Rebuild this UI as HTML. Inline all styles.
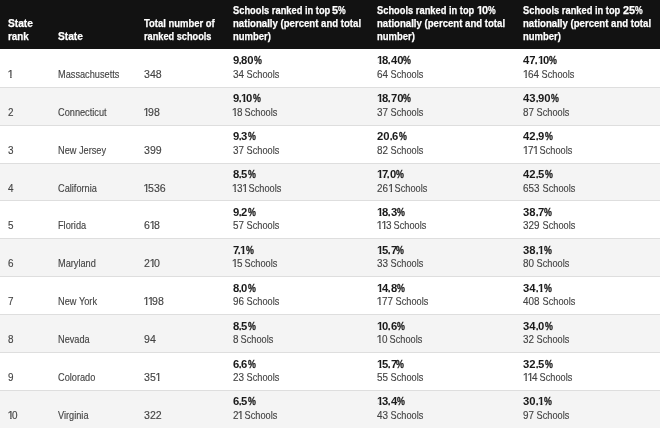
<!DOCTYPE html>
<html><head><meta charset="utf-8"><title>State rankings</title>
<style>
html,body{margin:0;padding:0;}
body{width:660px;height:428px;overflow:hidden;background:#fff;will-change:transform;font-family:"Liberation Sans",sans-serif;position:relative;}
.hd{position:absolute;left:0;top:0;width:660px;height:48.7px;background:#121212;}
.r{position:absolute;left:0;width:660px;border-bottom:1px solid #dedede;box-sizing:border-box;}
.r.e{background:#f4f4f4;}
.h,.t,.b{position:absolute;white-space:nowrap;font-size:11.5px;line-height:14px;height:14px;}
.h{color:#fff;font-weight:bold;-webkit-text-stroke:0.25px #fff;}
.t{color:#444444;-webkit-text-stroke:0.15px currentColor;}
.b{color:#1a1a1a;font-weight:bold;}
i{display:inline-block;font-style:normal;position:relative;height:14px;vertical-align:top;}
i>b{display:inline-block;font-weight:inherit;transform-origin:0 0;white-space:pre;position:relative;}
i>b.on{clip-path:polygon(0 0,8px 0,8px 9.38px,4.16px 9.38px,4.16px 20px,2.64px 20px,2.64px 9.38px,0 9.38px);}
i>b.ob{clip-path:polygon(0 0,8px 0,8px 9.08px,4.51px 9.08px,4.51px 20px,2.43px 20px,2.43px 9.08px,0 9.08px);}
</style></head><body>

<div class="hd"></div>
<div class="h" style="left:8.2px;top:16.22px"><i style="width: 24.89px;"><b style="transform:scaleX(0.885)">State</b></i></div><div class="h" style="left:8.2px;top:29.22px"><i style="width: 20.77px;"><b style="transform:scaleX(0.855)">rank</b></i></div>
<div class="h" style="left:57.7px;top:29.22px"><i style="width: 24.89px;"><b style="transform:scaleX(0.885)">State</b></i></div>
<div class="h" style="left:144.2px;top:16.22px"><i style="width: 70.72px;"><b style="transform:scaleX(0.822)">Total&nbsp;number&nbsp;of</b></i></div><div class="h" style="left:144.2px;top:29.22px"><i style="width: 67.5px;"><b style="transform:scaleX(0.800)">ranked&nbsp;schools</b></i></div>
<div class="h" style="left:232.5px;top:2.72px"><i style="width: 99.9px;"><b style="transform:scaleX(0.810)">Schools&nbsp;ranked&nbsp;in&nbsp;top&nbsp;</b></i><i style="width: 6.09px;"><b style="transform:scaleX(0.950)">5</b></i><i style="width: 7.68px;"><b style="transform:scaleX(0.750)">%</b></i></div><div class="h" style="left:232.5px;top:15.92px"><i style="width: 128.06px;"><b style="transform:scaleX(0.835)">nationally&nbsp;(percent&nbsp;and&nbsp;total</b></i></div><div class="h" style="left:232.5px;top:29.22px"><i style="width: 37.81px;"><b style="transform:scaleX(0.822)">number)</b></i></div>
<div class="h" style="left:377.3px;top:2.72px"><i style="width: 99.9px;"><b style="transform:scaleX(0.810)">Schools&nbsp;ranked&nbsp;in&nbsp;top&nbsp;</b></i><i style="width:5.00px"><b class="ob" style="transform:scaleX(0.950);left:0.00px">1</b></i><i style="width: 6.09px;"><b style="transform:scaleX(0.950)">0</b></i><i style="width: 7.68px;"><b style="transform:scaleX(0.750)">%</b></i></div><div class="h" style="left:377.3px;top:15.92px"><i style="width: 128.06px;"><b style="transform:scaleX(0.835)">nationally&nbsp;(percent&nbsp;and&nbsp;total</b></i></div><div class="h" style="left:377.3px;top:29.22px"><i style="width: 37.81px;"><b style="transform:scaleX(0.822)">number)</b></i></div>
<div class="h" style="left:523.4px;top:2.72px"><i style="width: 99.9px;"><b style="transform:scaleX(0.810)">Schools&nbsp;ranked&nbsp;in&nbsp;top&nbsp;</b></i><i style="width: 12.16px;"><b style="transform:scaleX(0.950)">25</b></i><i style="width: 7.68px;"><b style="transform:scaleX(0.750)">%</b></i></div><div class="h" style="left:523.4px;top:15.92px"><i style="width: 128.06px;"><b style="transform:scaleX(0.835)">nationally&nbsp;(percent&nbsp;and&nbsp;total</b></i></div><div class="h" style="left:523.4px;top:29.22px"><i style="width: 37.81px;"><b style="transform:scaleX(0.822)">number)</b></i></div>
<div class="r" style="top:49.85px;height:37.90px"></div>
<div class="t" style="left:8.2px;top:66.87px"><i style="width:4.30px"><b class="on" style="transform:scaleX(1.000);left:-0.70px">1</b></i></div>
<div class="t" style="left:57.7px;top:66.87px"><i style="width: 61.36px;"><b style="transform:scaleX(0.800)">Massachusetts</b></i></div>
<div class="t" style="left:143.9px;top:66.87px"><i style="width: 17.65px;"><b style="transform:scaleX(0.920)">348</b></i></div>
<div class="b" style="left:232.5px;top:53.37px"><i style="width: 6.28px;"><b style="transform:scaleX(0.980)">9</b></i><i style="width: 2.47px;"><b style="transform:scaleX(0.770);-webkit-text-stroke:0.3px currentColor">.</b></i><i style="width: 12.54px;"><b style="transform:scaleX(0.980)">80</b></i><i style="width: 7.88px;"><b style="transform:scaleX(0.770);-webkit-text-stroke:0.3px currentColor">%</b></i></div>
<div class="t" style="left:232.5px;top:66.87px"><i style="width: 11.01px;"><b style="transform:scaleX(0.860)">34</b></i><i style="width: 35.29px;"><b style="transform:scaleX(0.800)">&nbsp;Schools</b></i></div>
<div class="b" style="left:377.3px;top:53.37px"><i style="width:4.80px"><b class="ob" style="transform:scaleX(0.980);left:-0.30px">1</b></i><i style="width: 6.28px;"><b style="transform:scaleX(0.980)">8</b></i><i style="width: 2.47px;"><b style="transform:scaleX(0.770);-webkit-text-stroke:0.3px currentColor">.</b></i><i style="width: 12.54px;"><b style="transform:scaleX(0.980)">40</b></i><i style="width: 7.88px;"><b style="transform:scaleX(0.770);-webkit-text-stroke:0.3px currentColor">%</b></i></div>
<div class="t" style="left:377.3px;top:66.87px"><i style="width: 11.01px;"><b style="transform:scaleX(0.860)">64</b></i><i style="width: 35.29px;"><b style="transform:scaleX(0.800)">&nbsp;Schools</b></i></div>
<div class="b" style="left:523.4px;top:53.37px"><i style="width: 12.54px;"><b style="transform:scaleX(0.980)">47</b></i><i style="margin-left: -0.9px; width: 2.47px;"><b style="transform:scaleX(0.770);-webkit-text-stroke:0.3px currentColor">.</b></i><i style="width:5.20px"><b class="ob" style="transform:scaleX(0.980);left:0.10px">1</b></i><i style="width: 6.28px;"><b style="transform:scaleX(0.980)">0</b></i><i style="width: 7.88px;"><b style="transform:scaleX(0.770);-webkit-text-stroke:0.3px currentColor">%</b></i></div>
<div class="t" style="left:523.4px;top:66.87px"><i style="width:4.30px"><b class="on" style="transform:scaleX(1.000);left:-0.70px">1</b></i><i style="width: 11.01px;"><b style="transform:scaleX(0.860)">64</b></i><i style="width: 35.29px;"><b style="transform:scaleX(0.800)">&nbsp;Schools</b></i></div>
<div class="r e" style="top:87.75px;height:37.90px"></div>
<div class="t" style="left:8.2px;top:104.77px"><i style="width: 5.51px;"><b style="transform:scaleX(0.860)">2</b></i></div>
<div class="t" style="left:57.7px;top:104.77px"><i style="width: 48.59px;"><b style="transform:scaleX(0.800)">Connecticut</b></i></div>
<div class="t" style="left:143.9px;top:104.77px"><i style="width:4.30px"><b class="on" style="transform:scaleX(1.000);left:-0.70px">1</b></i><i style="width: 11.77px;"><b style="transform:scaleX(0.920)">98</b></i></div>
<div class="b" style="left:232.5px;top:91.27px"><i style="width: 6.28px;"><b style="transform:scaleX(0.980)">9</b></i><i style="width: 2.47px;"><b style="transform:scaleX(0.770);-webkit-text-stroke:0.3px currentColor">.</b></i><i style="width:5.20px"><b class="ob" style="transform:scaleX(0.980);left:0.10px">1</b></i><i style="width: 6.28px;"><b style="transform:scaleX(0.980)">0</b></i><i style="width: 7.88px;"><b style="transform:scaleX(0.770);-webkit-text-stroke:0.3px currentColor">%</b></i></div>
<div class="t" style="left:232.5px;top:104.77px"><i style="width:4.30px"><b class="on" style="transform:scaleX(1.000);left:-0.70px">1</b></i><i style="width: 5.51px;"><b style="transform:scaleX(0.860)">8</b></i><i style="width: 35.29px;"><b style="transform:scaleX(0.800)">&nbsp;Schools</b></i></div>
<div class="b" style="left:377.3px;top:91.27px"><i style="width:4.80px"><b class="ob" style="transform:scaleX(0.980);left:-0.30px">1</b></i><i style="width: 6.28px;"><b style="transform:scaleX(0.980)">8</b></i><i style="width: 2.47px;"><b style="transform:scaleX(0.770);-webkit-text-stroke:0.3px currentColor">.</b></i><i style="width: 12.54px;"><b style="transform:scaleX(0.980)">70</b></i><i style="width: 7.88px;"><b style="transform:scaleX(0.770);-webkit-text-stroke:0.3px currentColor">%</b></i></div>
<div class="t" style="left:377.3px;top:104.77px"><i style="width: 11.01px;"><b style="transform:scaleX(0.860)">37</b></i><i style="width: 35.29px;"><b style="transform:scaleX(0.800)">&nbsp;Schools</b></i></div>
<div class="b" style="left:523.4px;top:91.27px"><i style="width: 12.54px;"><b style="transform:scaleX(0.980)">43</b></i><i style="width: 2.47px;"><b style="transform:scaleX(0.770);-webkit-text-stroke:0.3px currentColor">.</b></i><i style="width: 12.54px;"><b style="transform:scaleX(0.980)">90</b></i><i style="width: 7.88px;"><b style="transform:scaleX(0.770);-webkit-text-stroke:0.3px currentColor">%</b></i></div>
<div class="t" style="left:523.4px;top:104.77px"><i style="width: 11.01px;"><b style="transform:scaleX(0.860)">87</b></i><i style="width: 35.29px;"><b style="transform:scaleX(0.800)">&nbsp;Schools</b></i></div>
<div class="r" style="top:125.65px;height:37.90px"></div>
<div class="t" style="left:8.2px;top:142.67px"><i style="width: 5.51px;"><b style="transform:scaleX(0.860)">3</b></i></div>
<div class="t" style="left:57.7px;top:142.67px"><i style="width: 48.06px;"><b style="transform:scaleX(0.800)">New&nbsp;Jersey</b></i></div>
<div class="t" style="left:143.9px;top:142.67px"><i style="width: 17.65px;"><b style="transform:scaleX(0.920)">399</b></i></div>
<div class="b" style="left:232.5px;top:129.17px"><i style="width: 6.28px;"><b style="transform:scaleX(0.980)">9</b></i><i style="width: 2.47px;"><b style="transform:scaleX(0.770);-webkit-text-stroke:0.3px currentColor">.</b></i><i style="width: 6.28px;"><b style="transform:scaleX(0.980)">3</b></i><i style="width: 7.88px;"><b style="transform:scaleX(0.770);-webkit-text-stroke:0.3px currentColor">%</b></i></div>
<div class="t" style="left:232.5px;top:142.67px"><i style="width: 11.01px;"><b style="transform:scaleX(0.860)">37</b></i><i style="width: 35.29px;"><b style="transform:scaleX(0.800)">&nbsp;Schools</b></i></div>
<div class="b" style="left:377.3px;top:129.17px"><i style="width: 12.54px;"><b style="transform:scaleX(0.980)">20</b></i><i style="width: 2.47px;"><b style="transform:scaleX(0.770);-webkit-text-stroke:0.3px currentColor">.</b></i><i style="width: 6.28px;"><b style="transform:scaleX(0.980)">6</b></i><i style="width: 7.88px;"><b style="transform:scaleX(0.770);-webkit-text-stroke:0.3px currentColor">%</b></i></div>
<div class="t" style="left:377.3px;top:142.67px"><i style="width: 11.01px;"><b style="transform:scaleX(0.860)">82</b></i><i style="width: 35.29px;"><b style="transform:scaleX(0.800)">&nbsp;Schools</b></i></div>
<div class="b" style="left:523.4px;top:129.17px"><i style="width: 12.54px;"><b style="transform:scaleX(0.980)">42</b></i><i style="width: 2.47px;"><b style="transform:scaleX(0.770);-webkit-text-stroke:0.3px currentColor">.</b></i><i style="width: 6.28px;"><b style="transform:scaleX(0.980)">9</b></i><i style="width: 7.88px;"><b style="transform:scaleX(0.770);-webkit-text-stroke:0.3px currentColor">%</b></i></div>
<div class="t" style="left:523.4px;top:142.67px"><i style="width:4.30px"><b class="on" style="transform:scaleX(1.000);left:-0.70px">1</b></i><i style="width: 5.51px;"><b style="transform:scaleX(0.860)">7</b></i><i style="width:4.20px"><b class="on" style="transform:scaleX(1.000);left:-0.40px">1</b></i><i style="width: 35.29px;"><b style="transform:scaleX(0.800)">&nbsp;Schools</b></i></div>
<div class="r e" style="top:163.55px;height:37.90px"></div>
<div class="t" style="left:8.2px;top:180.57px"><i style="width: 5.51px;"><b style="transform:scaleX(0.860)">4</b></i></div>
<div class="t" style="left:57.7px;top:180.57px"><i style="width: 38.86px;"><b style="transform:scaleX(0.800)">California</b></i></div>
<div class="t" style="left:143.9px;top:180.57px"><i style="width:4.30px"><b class="on" style="transform:scaleX(1.000);left:-0.70px">1</b></i><i style="width: 17.65px;"><b style="transform:scaleX(0.920)">536</b></i></div>
<div class="b" style="left:232.5px;top:167.07px"><i style="width: 6.28px;"><b style="transform:scaleX(0.980)">8</b></i><i style="width: 2.47px;"><b style="transform:scaleX(0.770);-webkit-text-stroke:0.3px currentColor">.</b></i><i style="width: 6.28px;"><b style="transform:scaleX(0.980)">5</b></i><i style="width: 7.88px;"><b style="transform:scaleX(0.770);-webkit-text-stroke:0.3px currentColor">%</b></i></div>
<div class="t" style="left:232.5px;top:180.57px"><i style="width:4.30px"><b class="on" style="transform:scaleX(1.000);left:-0.70px">1</b></i><i style="width: 5.51px;"><b style="transform:scaleX(0.860)">3</b></i><i style="width:4.20px"><b class="on" style="transform:scaleX(1.000);left:-0.40px">1</b></i><i style="width: 35.29px;"><b style="transform:scaleX(0.800)">&nbsp;Schools</b></i></div>
<div class="b" style="left:377.3px;top:167.07px"><i style="width:4.80px"><b class="ob" style="transform:scaleX(0.980);left:-0.30px">1</b></i><i style="width: 6.28px;"><b style="transform:scaleX(0.980)">7</b></i><i style="margin-left: -0.9px; width: 2.47px;"><b style="transform:scaleX(0.770);-webkit-text-stroke:0.3px currentColor">.</b></i><i style="width: 6.28px;"><b style="transform:scaleX(0.980)">0</b></i><i style="width: 7.88px;"><b style="transform:scaleX(0.770);-webkit-text-stroke:0.3px currentColor">%</b></i></div>
<div class="t" style="left:377.3px;top:180.57px"><i style="width: 11.01px;"><b style="transform:scaleX(0.860)">26</b></i><i style="width:4.20px"><b class="on" style="transform:scaleX(1.000);left:-0.40px">1</b></i><i style="width: 35.29px;"><b style="transform:scaleX(0.800)">&nbsp;Schools</b></i></div>
<div class="b" style="left:523.4px;top:167.07px"><i style="width: 12.54px;"><b style="transform:scaleX(0.980)">42</b></i><i style="width: 2.47px;"><b style="transform:scaleX(0.770);-webkit-text-stroke:0.3px currentColor">.</b></i><i style="width: 6.28px;"><b style="transform:scaleX(0.980)">5</b></i><i style="width: 7.88px;"><b style="transform:scaleX(0.770);-webkit-text-stroke:0.3px currentColor">%</b></i></div>
<div class="t" style="left:523.4px;top:180.57px"><i style="width: 16.5px;"><b style="transform:scaleX(0.860)">653</b></i><i style="width: 35.29px;"><b style="transform:scaleX(0.800)">&nbsp;Schools</b></i></div>
<div class="r" style="top:201.45px;height:37.90px"></div>
<div class="t" style="left:8.2px;top:218.47px"><i style="width: 5.51px;"><b style="transform:scaleX(0.860)">5</b></i></div>
<div class="t" style="left:57.7px;top:218.47px"><i style="width: 28.13px;"><b style="transform:scaleX(0.800)">Florida</b></i></div>
<div class="t" style="left:143.9px;top:218.47px"><i style="width: 5.89px;"><b style="transform:scaleX(0.920)">6</b></i><i style="width:4.20px"><b class="on" style="transform:scaleX(1.000);left:-0.40px">1</b></i><i style="width: 5.89px;"><b style="transform:scaleX(0.920)">8</b></i></div>
<div class="b" style="left:232.5px;top:204.97px"><i style="width: 6.28px;"><b style="transform:scaleX(0.980)">9</b></i><i style="width: 2.47px;"><b style="transform:scaleX(0.770);-webkit-text-stroke:0.3px currentColor">.</b></i><i style="width: 6.28px;"><b style="transform:scaleX(0.980)">2</b></i><i style="width: 7.88px;"><b style="transform:scaleX(0.770);-webkit-text-stroke:0.3px currentColor">%</b></i></div>
<div class="t" style="left:232.5px;top:218.47px"><i style="width: 11.01px;"><b style="transform:scaleX(0.860)">57</b></i><i style="width: 35.29px;"><b style="transform:scaleX(0.800)">&nbsp;Schools</b></i></div>
<div class="b" style="left:377.3px;top:204.97px"><i style="width:4.80px"><b class="ob" style="transform:scaleX(0.980);left:-0.30px">1</b></i><i style="width: 6.28px;"><b style="transform:scaleX(0.980)">8</b></i><i style="width: 2.47px;"><b style="transform:scaleX(0.770);-webkit-text-stroke:0.3px currentColor">.</b></i><i style="width: 6.28px;"><b style="transform:scaleX(0.980)">3</b></i><i style="width: 7.88px;"><b style="transform:scaleX(0.770);-webkit-text-stroke:0.3px currentColor">%</b></i></div>
<div class="t" style="left:377.3px;top:218.47px"><i style="width:4.30px"><b class="on" style="transform:scaleX(1.000);left:-0.70px">1</b></i><i style="width:4.20px"><b class="on" style="transform:scaleX(1.000);left:-0.40px">1</b></i><i style="width: 5.51px;"><b style="transform:scaleX(0.860)">3</b></i><i style="width: 35.29px;"><b style="transform:scaleX(0.800)">&nbsp;Schools</b></i></div>
<div class="b" style="left:523.4px;top:204.97px"><i style="width: 12.54px;"><b style="transform:scaleX(0.980)">38</b></i><i style="width: 2.47px;"><b style="transform:scaleX(0.770);-webkit-text-stroke:0.3px currentColor">.</b></i><i style="width: 6.28px;"><b style="transform:scaleX(0.980)">7</b></i><i style="margin-left: -0.9px; width: 7.88px;"><b style="transform:scaleX(0.770);-webkit-text-stroke:0.3px currentColor">%</b></i></div>
<div class="t" style="left:523.4px;top:218.47px"><i style="width: 16.5px;"><b style="transform:scaleX(0.860)">329</b></i><i style="width: 35.29px;"><b style="transform:scaleX(0.800)">&nbsp;Schools</b></i></div>
<div class="r e" style="top:239.35px;height:37.90px"></div>
<div class="t" style="left:8.2px;top:256.37px"><i style="width: 5.51px;"><b style="transform:scaleX(0.860)">6</b></i></div>
<div class="t" style="left:57.7px;top:256.37px"><i style="width: 37.85px;"><b style="transform:scaleX(0.800)">Maryland</b></i></div>
<div class="t" style="left:143.9px;top:256.37px"><i style="width: 5.89px;"><b style="transform:scaleX(0.920)">2</b></i><i style="width:4.20px"><b class="on" style="transform:scaleX(1.000);left:-0.40px">1</b></i><i style="width: 5.89px;"><b style="transform:scaleX(0.920)">0</b></i></div>
<div class="b" style="left:232.5px;top:242.87px"><i style="width: 6.28px;"><b style="transform:scaleX(0.980)">7</b></i><i style="margin-left: -0.9px; width: 2.47px;"><b style="transform:scaleX(0.770);-webkit-text-stroke:0.3px currentColor">.</b></i><i style="width:5.20px"><b class="ob" style="transform:scaleX(0.980);left:0.10px">1</b></i><i style="width: 7.88px;"><b style="transform:scaleX(0.770);-webkit-text-stroke:0.3px currentColor">%</b></i></div>
<div class="t" style="left:232.5px;top:256.37px"><i style="width:4.30px"><b class="on" style="transform:scaleX(1.000);left:-0.70px">1</b></i><i style="width: 5.51px;"><b style="transform:scaleX(0.860)">5</b></i><i style="width: 35.29px;"><b style="transform:scaleX(0.800)">&nbsp;Schools</b></i></div>
<div class="b" style="left:377.3px;top:242.87px"><i style="width:4.80px"><b class="ob" style="transform:scaleX(0.980);left:-0.30px">1</b></i><i style="width: 6.28px;"><b style="transform:scaleX(0.980)">5</b></i><i style="width: 2.47px;"><b style="transform:scaleX(0.770);-webkit-text-stroke:0.3px currentColor">.</b></i><i style="width: 6.28px;"><b style="transform:scaleX(0.980)">7</b></i><i style="margin-left: -0.9px; width: 7.88px;"><b style="transform:scaleX(0.770);-webkit-text-stroke:0.3px currentColor">%</b></i></div>
<div class="t" style="left:377.3px;top:256.37px"><i style="width: 11.01px;"><b style="transform:scaleX(0.860)">33</b></i><i style="width: 35.29px;"><b style="transform:scaleX(0.800)">&nbsp;Schools</b></i></div>
<div class="b" style="left:523.4px;top:242.87px"><i style="width: 12.54px;"><b style="transform:scaleX(0.980)">38</b></i><i style="width: 2.47px;"><b style="transform:scaleX(0.770);-webkit-text-stroke:0.3px currentColor">.</b></i><i style="width:5.20px"><b class="ob" style="transform:scaleX(0.980);left:0.10px">1</b></i><i style="width: 7.88px;"><b style="transform:scaleX(0.770);-webkit-text-stroke:0.3px currentColor">%</b></i></div>
<div class="t" style="left:523.4px;top:256.37px"><i style="width: 11.01px;"><b style="transform:scaleX(0.860)">80</b></i><i style="width: 35.29px;"><b style="transform:scaleX(0.800)">&nbsp;Schools</b></i></div>
<div class="r" style="top:277.25px;height:37.90px"></div>
<div class="t" style="left:8.2px;top:294.27px"><i style="width: 5.51px;"><b style="transform:scaleX(0.860)">7</b></i></div>
<div class="t" style="left:57.7px;top:294.27px"><i style="width: 39.04px;"><b style="transform:scaleX(0.800)">New&nbsp;York</b></i></div>
<div class="t" style="left:143.9px;top:294.27px"><i style="width:4.30px"><b class="on" style="transform:scaleX(1.000);left:-0.70px">1</b></i><i style="width:4.20px"><b class="on" style="transform:scaleX(1.000);left:-0.40px">1</b></i><i style="width: 11.77px;"><b style="transform:scaleX(0.920)">98</b></i></div>
<div class="b" style="left:232.5px;top:280.77px"><i style="width: 6.28px;"><b style="transform:scaleX(0.980)">8</b></i><i style="width: 2.47px;"><b style="transform:scaleX(0.770);-webkit-text-stroke:0.3px currentColor">.</b></i><i style="width: 6.28px;"><b style="transform:scaleX(0.980)">0</b></i><i style="width: 7.88px;"><b style="transform:scaleX(0.770);-webkit-text-stroke:0.3px currentColor">%</b></i></div>
<div class="t" style="left:232.5px;top:294.27px"><i style="width: 11.01px;"><b style="transform:scaleX(0.860)">96</b></i><i style="width: 35.29px;"><b style="transform:scaleX(0.800)">&nbsp;Schools</b></i></div>
<div class="b" style="left:377.3px;top:280.77px"><i style="width:4.80px"><b class="ob" style="transform:scaleX(0.980);left:-0.30px">1</b></i><i style="width: 6.28px;"><b style="transform:scaleX(0.980)">4</b></i><i style="width: 2.47px;"><b style="transform:scaleX(0.770);-webkit-text-stroke:0.3px currentColor">.</b></i><i style="width: 6.28px;"><b style="transform:scaleX(0.980)">8</b></i><i style="width: 7.88px;"><b style="transform:scaleX(0.770);-webkit-text-stroke:0.3px currentColor">%</b></i></div>
<div class="t" style="left:377.3px;top:294.27px"><i style="width:4.30px"><b class="on" style="transform:scaleX(1.000);left:-0.70px">1</b></i><i style="width: 11.01px;"><b style="transform:scaleX(0.860)">77</b></i><i style="width: 35.29px;"><b style="transform:scaleX(0.800)">&nbsp;Schools</b></i></div>
<div class="b" style="left:523.4px;top:280.77px"><i style="width: 12.54px;"><b style="transform:scaleX(0.980)">34</b></i><i style="width: 2.47px;"><b style="transform:scaleX(0.770);-webkit-text-stroke:0.3px currentColor">.</b></i><i style="width:5.20px"><b class="ob" style="transform:scaleX(0.980);left:0.10px">1</b></i><i style="width: 7.88px;"><b style="transform:scaleX(0.770);-webkit-text-stroke:0.3px currentColor">%</b></i></div>
<div class="t" style="left:523.4px;top:294.27px"><i style="width: 16.5px;"><b style="transform:scaleX(0.860)">408</b></i><i style="width: 35.29px;"><b style="transform:scaleX(0.800)">&nbsp;Schools</b></i></div>
<div class="r e" style="top:315.15px;height:37.90px"></div>
<div class="t" style="left:8.2px;top:332.17px"><i style="width: 5.51px;"><b style="transform:scaleX(0.860)">8</b></i></div>
<div class="t" style="left:57.7px;top:332.17px"><i style="width: 31.71px;"><b style="transform:scaleX(0.800)">Nevada</b></i></div>
<div class="t" style="left:143.9px;top:332.17px"><i style="width: 11.77px;"><b style="transform:scaleX(0.920)">94</b></i></div>
<div class="b" style="left:232.5px;top:318.67px"><i style="width: 6.28px;"><b style="transform:scaleX(0.980)">8</b></i><i style="width: 2.47px;"><b style="transform:scaleX(0.770);-webkit-text-stroke:0.3px currentColor">.</b></i><i style="width: 6.28px;"><b style="transform:scaleX(0.980)">5</b></i><i style="width: 7.88px;"><b style="transform:scaleX(0.770);-webkit-text-stroke:0.3px currentColor">%</b></i></div>
<div class="t" style="left:232.5px;top:332.17px"><i style="width: 5.51px;"><b style="transform:scaleX(0.860)">8</b></i><i style="width: 35.29px;"><b style="transform:scaleX(0.800)">&nbsp;Schools</b></i></div>
<div class="b" style="left:377.3px;top:318.67px"><i style="width:4.80px"><b class="ob" style="transform:scaleX(0.980);left:-0.30px">1</b></i><i style="width: 6.28px;"><b style="transform:scaleX(0.980)">0</b></i><i style="width: 2.47px;"><b style="transform:scaleX(0.770);-webkit-text-stroke:0.3px currentColor">.</b></i><i style="width: 6.28px;"><b style="transform:scaleX(0.980)">6</b></i><i style="width: 7.88px;"><b style="transform:scaleX(0.770);-webkit-text-stroke:0.3px currentColor">%</b></i></div>
<div class="t" style="left:377.3px;top:332.17px"><i style="width:4.30px"><b class="on" style="transform:scaleX(1.000);left:-0.70px">1</b></i><i style="width: 5.51px;"><b style="transform:scaleX(0.860)">0</b></i><i style="width: 35.29px;"><b style="transform:scaleX(0.800)">&nbsp;Schools</b></i></div>
<div class="b" style="left:523.4px;top:318.67px"><i style="width: 12.54px;"><b style="transform:scaleX(0.980)">34</b></i><i style="width: 2.47px;"><b style="transform:scaleX(0.770);-webkit-text-stroke:0.3px currentColor">.</b></i><i style="width: 6.28px;"><b style="transform:scaleX(0.980)">0</b></i><i style="width: 7.88px;"><b style="transform:scaleX(0.770);-webkit-text-stroke:0.3px currentColor">%</b></i></div>
<div class="t" style="left:523.4px;top:332.17px"><i style="width: 11.01px;"><b style="transform:scaleX(0.860)">32</b></i><i style="width: 35.29px;"><b style="transform:scaleX(0.800)">&nbsp;Schools</b></i></div>
<div class="r" style="top:353.05px;height:37.90px"></div>
<div class="t" style="left:8.2px;top:370.07px"><i style="width: 5.51px;"><b style="transform:scaleX(0.860)">9</b></i></div>
<div class="t" style="left:57.7px;top:370.07px"><i style="width: 37.34px;"><b style="transform:scaleX(0.800)">Colorado</b></i></div>
<div class="t" style="left:143.9px;top:370.07px"><i style="width: 11.77px;"><b style="transform:scaleX(0.920)">35</b></i><i style="width:4.20px"><b class="on" style="transform:scaleX(1.000);left:-0.40px">1</b></i></div>
<div class="b" style="left:232.5px;top:356.57px"><i style="width: 6.28px;"><b style="transform:scaleX(0.980)">6</b></i><i style="width: 2.47px;"><b style="transform:scaleX(0.770);-webkit-text-stroke:0.3px currentColor">.</b></i><i style="width: 6.28px;"><b style="transform:scaleX(0.980)">6</b></i><i style="width: 7.88px;"><b style="transform:scaleX(0.770);-webkit-text-stroke:0.3px currentColor">%</b></i></div>
<div class="t" style="left:232.5px;top:370.07px"><i style="width: 11.01px;"><b style="transform:scaleX(0.860)">23</b></i><i style="width: 35.29px;"><b style="transform:scaleX(0.800)">&nbsp;Schools</b></i></div>
<div class="b" style="left:377.3px;top:356.57px"><i style="width:4.80px"><b class="ob" style="transform:scaleX(0.980);left:-0.30px">1</b></i><i style="width: 6.28px;"><b style="transform:scaleX(0.980)">5</b></i><i style="width: 2.47px;"><b style="transform:scaleX(0.770);-webkit-text-stroke:0.3px currentColor">.</b></i><i style="width: 6.28px;"><b style="transform:scaleX(0.980)">7</b></i><i style="margin-left: -0.9px; width: 7.88px;"><b style="transform:scaleX(0.770);-webkit-text-stroke:0.3px currentColor">%</b></i></div>
<div class="t" style="left:377.3px;top:370.07px"><i style="width: 11.01px;"><b style="transform:scaleX(0.860)">55</b></i><i style="width: 35.29px;"><b style="transform:scaleX(0.800)">&nbsp;Schools</b></i></div>
<div class="b" style="left:523.4px;top:356.57px"><i style="width: 12.54px;"><b style="transform:scaleX(0.980)">32</b></i><i style="width: 2.47px;"><b style="transform:scaleX(0.770);-webkit-text-stroke:0.3px currentColor">.</b></i><i style="width: 6.28px;"><b style="transform:scaleX(0.980)">5</b></i><i style="width: 7.88px;"><b style="transform:scaleX(0.770);-webkit-text-stroke:0.3px currentColor">%</b></i></div>
<div class="t" style="left:523.4px;top:370.07px"><i style="width:4.30px"><b class="on" style="transform:scaleX(1.000);left:-0.70px">1</b></i><i style="width:4.20px"><b class="on" style="transform:scaleX(1.000);left:-0.40px">1</b></i><i style="width: 5.51px;"><b style="transform:scaleX(0.860)">4</b></i><i style="width: 35.29px;"><b style="transform:scaleX(0.800)">&nbsp;Schools</b></i></div>
<div class="r e" style="top:390.95px;height:37.90px"></div>
<div class="t" style="left:8.2px;top:407.97px"><i style="width:4.30px"><b class="on" style="transform:scaleX(1.000);left:-0.70px">1</b></i><i style="width: 5.51px;"><b style="transform:scaleX(0.860)">0</b></i></div>
<div class="t" style="left:57.7px;top:407.97px"><i style="width: 30.53px;"><b style="transform:scaleX(0.800)">Virginia</b></i></div>
<div class="t" style="left:143.9px;top:407.97px"><i style="width: 17.65px;"><b style="transform:scaleX(0.920)">322</b></i></div>
<div class="b" style="left:232.5px;top:394.47px"><i style="width: 6.28px;"><b style="transform:scaleX(0.980)">6</b></i><i style="width: 2.47px;"><b style="transform:scaleX(0.770);-webkit-text-stroke:0.3px currentColor">.</b></i><i style="width: 6.28px;"><b style="transform:scaleX(0.980)">5</b></i><i style="width: 7.88px;"><b style="transform:scaleX(0.770);-webkit-text-stroke:0.3px currentColor">%</b></i></div>
<div class="t" style="left:232.5px;top:407.97px"><i style="width: 5.51px;"><b style="transform:scaleX(0.860)">2</b></i><i style="width:4.20px"><b class="on" style="transform:scaleX(1.000);left:-0.40px">1</b></i><i style="width: 35.29px;"><b style="transform:scaleX(0.800)">&nbsp;Schools</b></i></div>
<div class="b" style="left:377.3px;top:394.47px"><i style="width:4.80px"><b class="ob" style="transform:scaleX(0.980);left:-0.30px">1</b></i><i style="width: 6.28px;"><b style="transform:scaleX(0.980)">3</b></i><i style="width: 2.47px;"><b style="transform:scaleX(0.770);-webkit-text-stroke:0.3px currentColor">.</b></i><i style="width: 6.28px;"><b style="transform:scaleX(0.980)">4</b></i><i style="width: 7.88px;"><b style="transform:scaleX(0.770);-webkit-text-stroke:0.3px currentColor">%</b></i></div>
<div class="t" style="left:377.3px;top:407.97px"><i style="width: 11.01px;"><b style="transform:scaleX(0.860)">43</b></i><i style="width: 35.29px;"><b style="transform:scaleX(0.800)">&nbsp;Schools</b></i></div>
<div class="b" style="left:523.4px;top:394.47px"><i style="width: 12.54px;"><b style="transform:scaleX(0.980)">30</b></i><i style="width: 2.47px;"><b style="transform:scaleX(0.770);-webkit-text-stroke:0.3px currentColor">.</b></i><i style="width:5.20px"><b class="ob" style="transform:scaleX(0.980);left:0.10px">1</b></i><i style="width: 7.88px;"><b style="transform:scaleX(0.770);-webkit-text-stroke:0.3px currentColor">%</b></i></div>
<div class="t" style="left:523.4px;top:407.97px"><i style="width: 11.01px;"><b style="transform:scaleX(0.860)">97</b></i><i style="width: 35.29px;"><b style="transform:scaleX(0.800)">&nbsp;Schools</b></i></div>
</body></html>
